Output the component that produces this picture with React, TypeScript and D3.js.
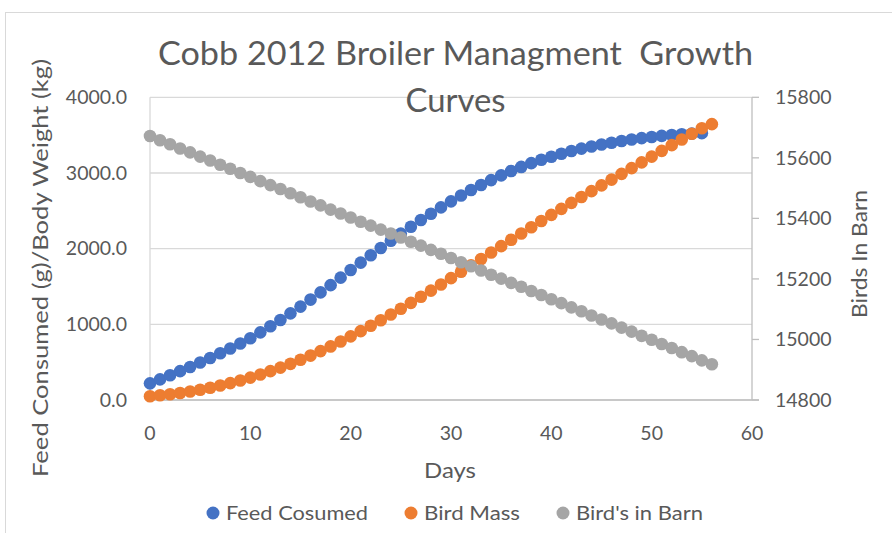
import React from "react";
import * as d3 from "d3";

const days: number[] = Array.from({ length: 57 }, (_, i) => i);

const feedConsumed: number[] = [
  220, 273, 327, 381, 437, 495, 555, 617, 680, 747,
  816, 894, 975, 1058, 1145, 1234, 1327, 1422, 1518, 1617,
  1718, 1815, 1912, 2008, 2104, 2198, 2290, 2378, 2462, 2545,
  2625, 2702, 2775, 2842, 2906, 2968, 3026, 3080, 3130, 3175,
  3215, 3255, 3290, 3322, 3350, 3376, 3400, 3422, 3442, 3460,
  3476, 3490, 3502, 3512, 3520, 3526,
];

const birdMass: number[] = [
  50, 62, 76, 93, 113, 136, 162, 191, 223, 258,
  296, 337, 381, 428, 478, 531, 587, 646, 708, 773,
  841, 910, 981, 1054, 1129, 1206, 1284, 1364, 1445, 1527,
  1610, 1694, 1779, 1864, 1949, 2033, 2117, 2200, 2283, 2365,
  2446, 2526, 2605, 2683, 2760, 2836, 2912, 2988, 3064, 3140,
  3216, 3292, 3368, 3443, 3518, 3592, 3645,
];

const birdsInBarn: number[] = [
  15672, 15658, 15645, 15631, 15618, 15604, 15591, 15577, 15564, 15550,
  15537, 15523, 15510, 15497, 15483, 15470, 15456, 15443, 15429, 15416,
  15403, 15389, 15376, 15363, 15350, 15337, 15323, 15310, 15296, 15283,
  15269, 15255, 15242, 15228, 15214, 15201, 15187, 15174, 15160, 15147,
  15133, 15120, 15106, 15093, 15079, 15066, 15053, 15039, 15026, 15012,
  14999, 14985, 14972, 14958, 14945, 14931, 14918,
];

const xTicks: number[] = [0, 10, 20, 30, 40, 50, 60];
const leftTicks: number[] = [0, 1000, 2000, 3000, 4000];
const rightTicks: number[] = [14800, 15000, 15200, 15400, 15600, 15800];

const titleLines: string[] = ["Cobb 2012 Broiler Managment  Growth", "Curves"];
const seriesNames: string[] = ["Feed Cosumed", "Bird Mass", "Bird's in Barn"];
const seriesColors: string[] = ["#4472C4", "#ED7D31", "#A5A5A5"];

const FONT = "Lato, 'Open Sans', sans-serif";
const TEXT = "#595959";

export default function App() {
  const W = 892;
  const H = 533;
  const left = 150;
  const right = 752;
  const top = 97.3;
  const bottom = 400;

  const x = d3.scaleLinear().domain([0, 60]).range([left, right]);
  const yL = d3.scaleLinear().domain([0, 4000]).range([bottom, top]);
  const yR = d3.scaleLinear().domain([14800, 15800]).range([bottom, top]);

  const r = 6.3;

  const legendItems = [
    { cx: 213, tx: 226, len: 142 },
    { cx: 411, tx: 424, len: 96 },
    { cx: 563, tx: 576, len: 127 },
  ];

  return (
    <svg
      width={W}
      height={H}
      style={{ position: "absolute", left: 0, top: 0, background: "#fff" }}
      fontFamily={FONT}
    >
      <rect x={0} y={0} width={W} height={H} fill="#fff" />
      <rect x={5.5} y={12.5} width={1000} height={1000} fill="none" stroke="#D9D9D9" strokeWidth={1} />

      {leftTicks.map((t) => (
        <line key={"g" + t} x1={left} x2={right} y1={yL(t)} y2={yL(t)} stroke="#D9D9D9" strokeWidth={1.3} />
      ))}
      <line x1={left} x2={left} y1={top} y2={bottom} stroke="#D9D9D9" strokeWidth={1.3} />
      <line x1={left} x2={right + 7} y1={bottom} y2={bottom} stroke="#BFBFBF" strokeWidth={1.3} />
      <line x1={right} x2={right} y1={top} y2={bottom} stroke="#BFBFBF" strokeWidth={1.3} />
      {rightTicks.map((t) => (
        <line key={"rt" + t} x1={right} x2={right + 7} y1={yR(t)} y2={yR(t)} stroke="#BFBFBF" strokeWidth={1.3} />
      ))}

      {leftTicks.map((t) => (
        <text key={"lt" + t} x={127} y={yL(t)} dy="0.35em" textAnchor="end" fontSize={19.5} fill={TEXT}>
          {d3.format(".1f")(t)}
        </text>
      ))}
      {rightTicks.map((t) => (
        <text key={"rl" + t} x={775} y={yR(t)} dy="0.35em" textAnchor="start" fontSize={19.5} fill={TEXT}>
          {t}
        </text>
      ))}
      {xTicks.map((t) => (
        <text key={"xt" + t} x={x(t)} y={433} dy="0.35em" textAnchor="middle" fontSize={19.5} fill={TEXT}>
          {t}
        </text>
      ))}

      <text x={450} y={470} dy="0.35em" textAnchor="middle" fontSize={22} fill={TEXT} textLength={52} lengthAdjust="spacingAndGlyphs">Days</text>
      <text
        transform={`translate(41, 268) rotate(-90)`}
        textAnchor="middle"
        dy="0.35em"
        fontSize={20.5}
        fill={TEXT}
        textLength={418}
        lengthAdjust="spacingAndGlyphs"
      >
        Feed Consumed (g)/Body Weight (kg)
      </text>
      <text
        transform={`translate(860, 254) rotate(-90)`}
        textAnchor="middle"
        dy="0.35em"
        fontSize={20.5}
        fill={TEXT}
        textLength={128}
        lengthAdjust="spacingAndGlyphs"
      >
        Birds In Barn
      </text>

      <g>
        {feedConsumed.map((v, i) => (
          <circle key={"f" + i} cx={x(days[i])} cy={yL(v)} r={r} fill={seriesColors[0]} />
        ))}
      </g>
      <g>
        {birdMass.map((v, i) => (
          <circle key={"m" + i} cx={x(days[i])} cy={yL(v)} r={r} fill={seriesColors[1]} />
        ))}
      </g>
      <g>
        {birdsInBarn.map((v, i) => (
          <circle key={"b" + i} cx={x(days[i])} cy={yR(v)} r={r} fill={seriesColors[2]} />
        ))}
      </g>

      <text x={455.5} y={65} textAnchor="middle" fontSize={32} fill={TEXT} textLength={595}
        lengthAdjust="spacingAndGlyphs" style={{ whiteSpace: "pre" }} xmlSpace="preserve">
        {titleLines[0]}
      </text>
      <text x={455.5} y={112} textAnchor="middle" fontSize={32} fill={TEXT} textLength={100}
        lengthAdjust="spacingAndGlyphs">
        {titleLines[1]}
      </text>

      {seriesNames.map((n, i) => (
        <g key={"lg" + i}>
          <circle cx={legendItems[i].cx} cy={513} r={6.5} fill={seriesColors[i]} />
          <text x={legendItems[i].tx} y={513} dy="0.35em" fontSize={19.5} fill={TEXT} textLength={legendItems[i].len}
            lengthAdjust="spacingAndGlyphs">
            {n}
          </text>
        </g>
      ))}
    </svg>
  );
}
